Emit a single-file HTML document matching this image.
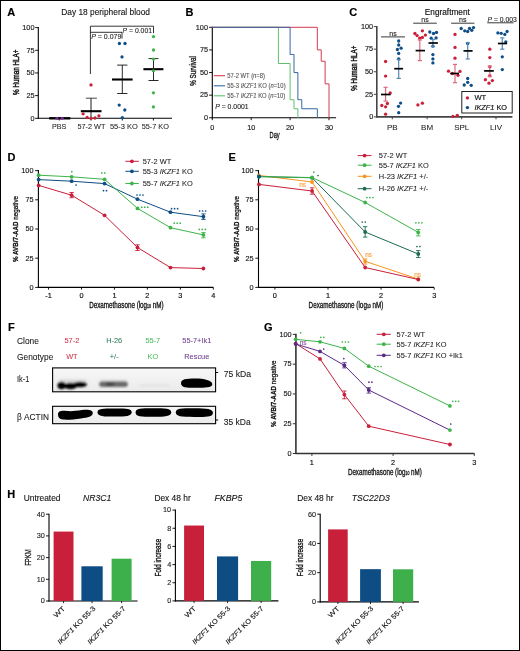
<!DOCTYPE html>
<html><head><meta charset="utf-8"><title>Figure</title>
<style>
html,body{margin:0;padding:0;background:#fff;}
body{width:520px;height:651px;overflow:hidden;}
svg{display:block;will-change:transform;font-family:"Liberation Sans", sans-serif;}
</style></head>
<body>
<svg width="520" height="651" viewBox="0 0 520 651">
<rect x="0.5" y="0.5" width="519" height="650" fill="#fff" stroke="#000" stroke-width="1"/>
<text x="7.20" y="15.80" font-size="11" stroke="#000" stroke-width="0.16" font-weight="bold" >A</text>
<text x="61.20" y="14.90" font-size="8.5" stroke="#111" stroke-width="0.1" fill="#111" textLength="88.8" lengthAdjust="spacingAndGlyphs" >Day 18 peripheral blood</text>
<line x1="38.30" y1="27.10" x2="38.30" y2="118.80" stroke="#000" stroke-width="1.1" />
<line x1="37.80" y1="118.30" x2="172.00" y2="118.30" stroke="#000" stroke-width="1.1" />
<line x1="35.10" y1="118.30" x2="38.30" y2="118.30" stroke="#000" stroke-width="0.9" />
<text x="34.50" y="120.60" font-size="7.3" stroke="#222" stroke-width="0.15" text-anchor="end" fill="#222" >0</text>
<line x1="35.10" y1="95.62" x2="38.30" y2="95.62" stroke="#000" stroke-width="0.9" />
<text x="34.50" y="97.92" font-size="7.3" stroke="#222" stroke-width="0.15" text-anchor="end" fill="#222" >25</text>
<line x1="35.10" y1="72.95" x2="38.30" y2="72.95" stroke="#000" stroke-width="0.9" />
<text x="34.50" y="75.25" font-size="7.3" stroke="#222" stroke-width="0.15" text-anchor="end" fill="#222" >50</text>
<line x1="35.10" y1="50.27" x2="38.30" y2="50.27" stroke="#000" stroke-width="0.9" />
<text x="34.50" y="52.57" font-size="7.3" stroke="#222" stroke-width="0.15" text-anchor="end" fill="#222" >75</text>
<line x1="35.10" y1="27.60" x2="38.30" y2="27.60" stroke="#000" stroke-width="0.9" />
<text x="34.50" y="29.90" font-size="7.3" stroke="#222" stroke-width="0.15" text-anchor="end" fill="#222" >100</text>
<line x1="59.20" y1="118.30" x2="59.20" y2="120.50" stroke="#000" stroke-width="0.9" />
<text x="59.20" y="129.00" font-size="8.0" stroke="#1a1a1a" stroke-width="0.06" text-anchor="middle" fill="#1a1a1a" textLength="14.3" lengthAdjust="spacingAndGlyphs" >PBS</text>
<line x1="91.00" y1="118.30" x2="91.00" y2="120.50" stroke="#000" stroke-width="0.9" />
<text x="91.40" y="129.00" font-size="8.0" stroke="#1a1a1a" stroke-width="0.06" text-anchor="middle" fill="#1a1a1a" textLength="27.9" lengthAdjust="spacingAndGlyphs" >57-2 WT</text>
<line x1="122.30" y1="118.30" x2="122.30" y2="120.50" stroke="#000" stroke-width="0.9" />
<text x="123.80" y="129.00" font-size="8.0" stroke="#1a1a1a" stroke-width="0.06" text-anchor="middle" fill="#1a1a1a" textLength="27.8" lengthAdjust="spacingAndGlyphs" >55-3 KO</text>
<line x1="153.40" y1="118.30" x2="153.40" y2="120.50" stroke="#000" stroke-width="0.9" />
<text x="155.30" y="129.00" font-size="8.0" stroke="#1a1a1a" stroke-width="0.06" text-anchor="middle" fill="#1a1a1a" textLength="27.3" lengthAdjust="spacingAndGlyphs" >55-7 KO</text>
<text x="19.00" y="72.20" font-size="9.2" stroke="#111" stroke-width="0.45" text-anchor="middle" fill="#111" textLength="45.4" lengthAdjust="spacingAndGlyphs" transform="rotate(-90 19.00 72.20)" >% Human HLA+</text>
<path d="M90.4,74 V26.2 H153.5 V33.2" stroke="#000" stroke-width="0.8" fill="none" />
<path d="M90.4,32.3 H122 V38.6" stroke="#000" stroke-width="0.8" fill="none" />
<text x="91.30" y="39.40" font-size="7" stroke="#222" stroke-width="0.08" fill="#222" textLength="30" lengthAdjust="spacingAndGlyphs" ><tspan font-style="italic">P</tspan> = 0.079</text>
<text x="122.60" y="32.90" font-size="7" stroke="#222" stroke-width="0.08" fill="#222" textLength="29.4" lengthAdjust="spacingAndGlyphs" ><tspan font-style="italic">P</tspan> = 0.001</text>
<line x1="49.20" y1="118.30" x2="70.30" y2="118.30" stroke="#000" stroke-width="2.4" />
<circle cx="56.90" cy="118.30" r="1.5" fill="#7a2a9a"/>
<circle cx="62.30" cy="118.30" r="1.5" fill="#7a2a9a"/>
<line x1="80.80" y1="111.20" x2="101.50" y2="111.20" stroke="#000" stroke-width="2.1" />
<line x1="91.00" y1="98.20" x2="91.00" y2="118.30" stroke="#000" stroke-width="0.9" />
<line x1="85.80" y1="98.20" x2="96.90" y2="98.20" stroke="#333" stroke-width="0.9" />
<circle cx="91.00" cy="84.90" r="1.65" fill="#c8203a"/>
<circle cx="83.10" cy="113.80" r="1.65" fill="#c8203a"/>
<circle cx="87.10" cy="117.50" r="1.65" fill="#c8203a"/>
<circle cx="91.00" cy="118.30" r="1.65" fill="#c8203a"/>
<circle cx="95.00" cy="118.00" r="1.65" fill="#c8203a"/>
<circle cx="98.90" cy="115.80" r="1.65" fill="#c8203a"/>
<line x1="112.00" y1="79.50" x2="132.60" y2="79.50" stroke="#000" stroke-width="2.1" />
<line x1="122.30" y1="65.10" x2="122.30" y2="93.50" stroke="#111" stroke-width="0.9" />
<line x1="117.20" y1="65.10" x2="127.40" y2="65.10" stroke="#111" stroke-width="0.9" />
<line x1="117.20" y1="93.50" x2="127.40" y2="93.50" stroke="#111" stroke-width="0.9" />
<circle cx="119.40" cy="43.50" r="1.65" fill="#0e4d86"/>
<circle cx="125.00" cy="43.50" r="1.65" fill="#0e4d86"/>
<circle cx="122.00" cy="56.90" r="1.65" fill="#0e4d86"/>
<circle cx="119.20" cy="105.10" r="1.65" fill="#0e4d86"/>
<circle cx="124.80" cy="110.00" r="1.65" fill="#0e4d86"/>
<circle cx="122.30" cy="117.70" r="1.65" fill="#0e4d86"/>
<line x1="143.40" y1="69.20" x2="163.40" y2="69.20" stroke="#000" stroke-width="2.1" />
<line x1="153.50" y1="58.60" x2="153.50" y2="80.50" stroke="#111" stroke-width="0.9" />
<line x1="148.50" y1="58.60" x2="158.50" y2="58.60" stroke="#111" stroke-width="0.9" />
<line x1="148.50" y1="80.50" x2="158.50" y2="80.50" stroke="#111" stroke-width="0.9" />
<circle cx="153.50" cy="36.60" r="1.65" fill="#3db44b"/>
<circle cx="153.50" cy="50.00" r="1.65" fill="#3db44b"/>
<circle cx="153.50" cy="59.10" r="1.65" fill="#3db44b"/>
<circle cx="153.40" cy="70.80" r="1.65" fill="#3db44b"/>
<circle cx="153.40" cy="92.80" r="1.65" fill="#3db44b"/>
<circle cx="153.40" cy="106.90" r="1.65" fill="#3db44b"/>
<text x="185.60" y="15.80" font-size="11" stroke="#000" stroke-width="0.16" font-weight="bold" >B</text>
<line x1="212.30" y1="26.80" x2="212.30" y2="118.30" stroke="#000" stroke-width="1.1" />
<line x1="211.80" y1="117.80" x2="336.10" y2="117.80" stroke="#000" stroke-width="1.1" />
<line x1="209.10" y1="117.80" x2="212.30" y2="117.80" stroke="#000" stroke-width="0.9" />
<text x="208.00" y="120.10" font-size="7.3" stroke="#222" stroke-width="0.16" text-anchor="end" fill="#222" >0</text>
<line x1="209.10" y1="95.17" x2="212.30" y2="95.17" stroke="#000" stroke-width="0.9" />
<text x="208.00" y="97.47" font-size="7.3" stroke="#222" stroke-width="0.16" text-anchor="end" fill="#222" >25</text>
<line x1="209.10" y1="72.55" x2="212.30" y2="72.55" stroke="#000" stroke-width="0.9" />
<text x="208.00" y="74.85" font-size="7.3" stroke="#222" stroke-width="0.16" text-anchor="end" fill="#222" >50</text>
<line x1="209.10" y1="49.92" x2="212.30" y2="49.92" stroke="#000" stroke-width="0.9" />
<text x="208.00" y="52.22" font-size="7.3" stroke="#222" stroke-width="0.16" text-anchor="end" fill="#222" >75</text>
<line x1="209.10" y1="27.30" x2="212.30" y2="27.30" stroke="#000" stroke-width="0.9" />
<text x="208.00" y="29.60" font-size="7.3" stroke="#222" stroke-width="0.16" text-anchor="end" fill="#222" >100</text>
<line x1="212.30" y1="117.80" x2="212.30" y2="120.20" stroke="#000" stroke-width="0.9" />
<text x="212.30" y="129.60" font-size="7.3" stroke="#222" stroke-width="0.16" text-anchor="middle" fill="#222" >0</text>
<line x1="251.20" y1="117.80" x2="251.20" y2="120.20" stroke="#000" stroke-width="0.9" />
<text x="251.20" y="129.60" font-size="7.3" stroke="#222" stroke-width="0.16" text-anchor="middle" fill="#222" >10</text>
<line x1="290.10" y1="117.80" x2="290.10" y2="120.20" stroke="#000" stroke-width="0.9" />
<text x="290.10" y="129.60" font-size="7.3" stroke="#222" stroke-width="0.16" text-anchor="middle" fill="#222" >20</text>
<line x1="329.00" y1="117.80" x2="329.00" y2="120.20" stroke="#000" stroke-width="0.9" />
<text x="329.00" y="129.60" font-size="7.3" stroke="#222" stroke-width="0.16" text-anchor="middle" fill="#222" >30</text>
<text x="195.80" y="71.00" font-size="8.9" stroke="#111" stroke-width="0.35" text-anchor="middle" fill="#111" textLength="29.6" lengthAdjust="spacingAndGlyphs" transform="rotate(-90 195.80 71.00)" >% Survival</text>
<text x="274.60" y="137.80" font-size="9.6" stroke="#111" stroke-width="0.3" text-anchor="middle" fill="#111" textLength="10.2" lengthAdjust="spacingAndGlyphs" >Day</text>
<path d="M212.30,27.30 H278.43 V63.50 H290.10 V99.70 H293.99 V108.75 H297.88 V117.80" stroke="#62c070" stroke-width="1" fill="none" />
<path d="M212.30,27.30 H317.33 V49.92 H321.22 V61.24 H325.11 V83.86 H329.00 V117.80" stroke="#d63a50" stroke-width="1" fill="none" />
<path d="M212.30,27.30 H290.10 V54.45 H293.99 V72.55 H297.88 V99.70 H301.77 V108.75 H317.33 V117.80" stroke="#3569a3" stroke-width="1" fill="none" />
<line x1="213.80" y1="75.70" x2="225.10" y2="75.70" stroke="#d63a50" stroke-width="1.1" />
<text x="227.30" y="77.90" font-size="6.4" stroke="#555" stroke-width="0.1" fill="#555" textLength="37.6" lengthAdjust="spacingAndGlyphs" >57-2 WT (<tspan font-style="italic">n</tspan>=8)</text>
<line x1="213.80" y1="85.80" x2="225.10" y2="85.80" stroke="#3569a3" stroke-width="1.1" />
<text x="227.30" y="88.00" font-size="6.4" stroke="#555" stroke-width="0.1" fill="#555" textLength="58.3" lengthAdjust="spacingAndGlyphs" >55-3 <tspan font-style="italic">IKZF1</tspan> KO (<tspan font-style="italic">n</tspan>=10)</text>
<line x1="213.80" y1="95.80" x2="225.10" y2="95.80" stroke="#62c070" stroke-width="1.1" />
<text x="227.30" y="98.00" font-size="6.4" stroke="#555" stroke-width="0.1" fill="#555" textLength="58.0" lengthAdjust="spacingAndGlyphs" >55-7 <tspan font-style="italic">IKZF1</tspan> KO (<tspan font-style="italic">n</tspan>=10)</text>
<text x="215.20" y="109.00" font-size="7.4" stroke="#222" stroke-width="0.1" fill="#222" textLength="33.4" lengthAdjust="spacingAndGlyphs" ><tspan font-style="italic">P</tspan> = 0.0001</text>
<text x="349.20" y="15.90" font-size="11" stroke="#000" stroke-width="0.16" font-weight="bold" >C</text>
<text x="424.80" y="14.80" font-size="8.6" stroke="#111" stroke-width="0.16" fill="#111" textLength="45" lengthAdjust="spacingAndGlyphs" >Engraftment</text>
<line x1="376.80" y1="26.00" x2="376.80" y2="117.50" stroke="#444" stroke-width="1.6" />
<line x1="376.20" y1="116.90" x2="512.40" y2="116.90" stroke="#444" stroke-width="1.6" />
<line x1="373.80" y1="116.90" x2="376.80" y2="116.90" stroke="#444" stroke-width="1.0" />
<text x="373.20" y="119.20" font-size="7.3" stroke="#222" stroke-width="0.16" text-anchor="end" fill="#222" >0</text>
<line x1="373.80" y1="94.33" x2="376.80" y2="94.33" stroke="#444" stroke-width="1.0" />
<text x="373.20" y="96.62" font-size="7.3" stroke="#222" stroke-width="0.16" text-anchor="end" fill="#222" >25</text>
<line x1="373.80" y1="71.75" x2="376.80" y2="71.75" stroke="#444" stroke-width="1.0" />
<text x="373.20" y="74.05" font-size="7.3" stroke="#222" stroke-width="0.16" text-anchor="end" fill="#222" >50</text>
<line x1="373.80" y1="49.17" x2="376.80" y2="49.17" stroke="#444" stroke-width="1.0" />
<text x="373.20" y="51.47" font-size="7.3" stroke="#222" stroke-width="0.16" text-anchor="end" fill="#222" >75</text>
<line x1="373.80" y1="26.60" x2="376.80" y2="26.60" stroke="#444" stroke-width="1.0" />
<text x="373.20" y="28.90" font-size="7.3" stroke="#222" stroke-width="0.16" text-anchor="end" fill="#222" >100</text>
<line x1="392.30" y1="116.90" x2="392.30" y2="119.30" stroke="#444" stroke-width="1.0" />
<text x="392.30" y="130.00" font-size="8.0" stroke="#1a1a1a" stroke-width="0.05" text-anchor="middle" fill="#1a1a1a" >PB</text>
<line x1="427.10" y1="116.90" x2="427.10" y2="119.30" stroke="#444" stroke-width="1.0" />
<text x="427.10" y="130.00" font-size="8.0" stroke="#1a1a1a" stroke-width="0.05" text-anchor="middle" fill="#1a1a1a" >BM</text>
<line x1="461.70" y1="116.90" x2="461.70" y2="119.30" stroke="#444" stroke-width="1.0" />
<text x="461.70" y="130.00" font-size="8.0" stroke="#1a1a1a" stroke-width="0.05" text-anchor="middle" fill="#1a1a1a" >SPL</text>
<line x1="496.00" y1="116.90" x2="496.00" y2="119.30" stroke="#444" stroke-width="1.0" />
<text x="496.00" y="130.00" font-size="8.0" stroke="#1a1a1a" stroke-width="0.05" text-anchor="middle" fill="#1a1a1a" >LIV</text>
<text x="357.40" y="68.20" font-size="9.2" stroke="#111" stroke-width="0.45" text-anchor="middle" fill="#111" textLength="45" lengthAdjust="spacingAndGlyphs" transform="rotate(-90 357.40 68.20)" >% Human HLA+</text>
<line x1="381.00" y1="36.90" x2="405.00" y2="36.90" stroke="#222" stroke-width="0.9" />
<text x="393.00" y="36.00" font-size="7" stroke="#1a1a1a" stroke-width="0.1" text-anchor="middle" fill="#1a1a1a" >ns</text>
<line x1="413.20" y1="23.20" x2="436.80" y2="23.20" stroke="#222" stroke-width="0.9" />
<text x="425.00" y="22.30" font-size="7" stroke="#1a1a1a" stroke-width="0.1" text-anchor="middle" fill="#1a1a1a" >ns</text>
<line x1="451.10" y1="23.20" x2="474.40" y2="23.20" stroke="#222" stroke-width="0.9" />
<text x="462.75" y="22.30" font-size="7" stroke="#1a1a1a" stroke-width="0.1" text-anchor="middle" fill="#1a1a1a" >ns</text>
<line x1="487.30" y1="22.80" x2="513.50" y2="22.80" stroke="#222" stroke-width="0.9" />
<text x="487.50" y="21.60" font-size="7.0" stroke="#1a1a1a" stroke-width="0.1" fill="#1a1a1a" textLength="29.4" lengthAdjust="spacingAndGlyphs" ><tspan font-style="italic">P</tspan> = 0.003</text>
<circle cx="385.60" cy="61.50" r="1.65" fill="#cc1f3a"/>
<circle cx="385.60" cy="76.10" r="1.65" fill="#cc1f3a"/>
<circle cx="390.20" cy="92.90" r="1.65" fill="#cc1f3a"/>
<circle cx="387.40" cy="103.50" r="1.65" fill="#cc1f3a"/>
<circle cx="381.80" cy="105.50" r="1.65" fill="#cc1f3a"/>
<circle cx="385.60" cy="106.80" r="1.65" fill="#cc1f3a"/>
<circle cx="385.60" cy="114.20" r="1.65" fill="#cc1f3a"/>
<line x1="385.60" y1="87.30" x2="385.60" y2="101.10" stroke="#dc6a7c" stroke-width="1.2" />
<line x1="383.50" y1="87.30" x2="387.70" y2="87.30" stroke="#dc6a7c" stroke-width="1.2" />
<line x1="383.50" y1="101.10" x2="387.70" y2="101.10" stroke="#dc6a7c" stroke-width="1.2" />
<line x1="381.00" y1="94.50" x2="390.60" y2="94.50" stroke="#000" stroke-width="1.7" />
<circle cx="398.70" cy="41.00" r="1.65" fill="#0e4d86"/>
<circle cx="398.70" cy="45.00" r="1.65" fill="#0e4d86"/>
<circle cx="397.40" cy="49.50" r="1.65" fill="#0e4d86"/>
<circle cx="401.10" cy="48.20" r="1.65" fill="#0e4d86"/>
<circle cx="398.70" cy="53.40" r="1.65" fill="#0e4d86"/>
<circle cx="398.70" cy="59.00" r="1.65" fill="#0e4d86"/>
<circle cx="400.60" cy="103.10" r="1.65" fill="#0e4d86"/>
<circle cx="398.50" cy="106.30" r="1.65" fill="#0e4d86"/>
<circle cx="398.70" cy="112.70" r="1.65" fill="#0e4d86"/>
<line x1="398.70" y1="59.50" x2="398.70" y2="78.40" stroke="#5588b8" stroke-width="1.2" />
<line x1="396.60" y1="59.50" x2="400.80" y2="59.50" stroke="#5588b8" stroke-width="1.2" />
<line x1="396.60" y1="78.40" x2="400.80" y2="78.40" stroke="#5588b8" stroke-width="1.2" />
<line x1="394.20" y1="68.70" x2="403.10" y2="68.70" stroke="#000" stroke-width="1.7" />
<circle cx="414.90" cy="33.50" r="1.65" fill="#cc1f3a"/>
<circle cx="422.40" cy="30.80" r="1.65" fill="#cc1f3a"/>
<circle cx="417.10" cy="35.60" r="1.65" fill="#cc1f3a"/>
<circle cx="419.70" cy="38.20" r="1.65" fill="#cc1f3a"/>
<circle cx="422.40" cy="37.40" r="1.65" fill="#cc1f3a"/>
<circle cx="425.40" cy="35.10" r="1.65" fill="#cc1f3a"/>
<circle cx="417.90" cy="104.90" r="1.65" fill="#cc1f3a"/>
<circle cx="422.40" cy="103.20" r="1.65" fill="#cc1f3a"/>
<line x1="419.80" y1="40.00" x2="419.80" y2="60.60" stroke="#dc6a7c" stroke-width="1.2" />
<line x1="417.70" y1="40.00" x2="421.90" y2="40.00" stroke="#dc6a7c" stroke-width="1.2" />
<line x1="417.70" y1="60.60" x2="421.90" y2="60.60" stroke="#dc6a7c" stroke-width="1.2" />
<line x1="415.60" y1="50.60" x2="425.00" y2="50.60" stroke="#000" stroke-width="1.7" />
<circle cx="429.80" cy="32.00" r="1.65" fill="#0e4d86"/>
<circle cx="433.50" cy="33.50" r="1.65" fill="#0e4d86"/>
<circle cx="436.50" cy="32.40" r="1.65" fill="#0e4d86"/>
<circle cx="431.20" cy="38.20" r="1.65" fill="#0e4d86"/>
<circle cx="436.10" cy="37.90" r="1.65" fill="#0e4d86"/>
<circle cx="432.90" cy="46.20" r="1.65" fill="#0e4d86"/>
<circle cx="432.90" cy="54.60" r="1.65" fill="#0e4d86"/>
<circle cx="432.90" cy="58.90" r="1.65" fill="#0e4d86"/>
<circle cx="432.90" cy="62.90" r="1.65" fill="#0e4d86"/>
<line x1="432.90" y1="39.50" x2="432.90" y2="46.50" stroke="#5588b8" stroke-width="1.2" />
<line x1="430.80" y1="39.50" x2="435.00" y2="39.50" stroke="#5588b8" stroke-width="1.2" />
<line x1="430.80" y1="46.50" x2="435.00" y2="46.50" stroke="#5588b8" stroke-width="1.2" />
<line x1="428.50" y1="43.00" x2="437.90" y2="43.00" stroke="#000" stroke-width="1.7" />
<circle cx="455.00" cy="34.40" r="1.65" fill="#cc1f3a"/>
<circle cx="455.00" cy="47.40" r="1.65" fill="#cc1f3a"/>
<circle cx="455.00" cy="58.20" r="1.65" fill="#cc1f3a"/>
<circle cx="448.50" cy="71.20" r="1.65" fill="#cc1f3a"/>
<circle cx="460.00" cy="71.40" r="1.65" fill="#cc1f3a"/>
<circle cx="452.40" cy="73.50" r="1.65" fill="#cc1f3a"/>
<circle cx="458.00" cy="75.30" r="1.65" fill="#cc1f3a"/>
<circle cx="452.90" cy="116.40" r="1.65" fill="#cc1f3a"/>
<circle cx="457.30" cy="115.30" r="1.65" fill="#cc1f3a"/>
<line x1="455.00" y1="64.40" x2="455.00" y2="82.70" stroke="#dc6a7c" stroke-width="1.2" />
<line x1="452.90" y1="64.40" x2="457.10" y2="64.40" stroke="#dc6a7c" stroke-width="1.2" />
<line x1="452.90" y1="82.70" x2="457.10" y2="82.70" stroke="#dc6a7c" stroke-width="1.2" />
<line x1="450.20" y1="73.50" x2="459.00" y2="73.50" stroke="#000" stroke-width="1.7" />
<circle cx="461.20" cy="28.50" r="1.65" fill="#0e4d86"/>
<circle cx="464.70" cy="30.80" r="1.65" fill="#0e4d86"/>
<circle cx="467.70" cy="31.50" r="1.65" fill="#0e4d86"/>
<circle cx="469.50" cy="28.50" r="1.65" fill="#0e4d86"/>
<circle cx="471.80" cy="30.30" r="1.65" fill="#0e4d86"/>
<circle cx="473.50" cy="27.60" r="1.65" fill="#0e4d86"/>
<circle cx="467.70" cy="43.50" r="1.65" fill="#0e4d86"/>
<circle cx="467.70" cy="78.50" r="1.65" fill="#0e4d86"/>
<circle cx="464.20" cy="85.00" r="1.65" fill="#0e4d86"/>
<circle cx="467.70" cy="82.30" r="1.65" fill="#0e4d86"/>
<circle cx="471.20" cy="85.30" r="1.65" fill="#0e4d86"/>
<line x1="467.70" y1="42.60" x2="467.70" y2="59.00" stroke="#5588b8" stroke-width="1.2" />
<line x1="465.60" y1="42.60" x2="469.80" y2="42.60" stroke="#5588b8" stroke-width="1.2" />
<line x1="465.60" y1="59.00" x2="469.80" y2="59.00" stroke="#5588b8" stroke-width="1.2" />
<line x1="463.50" y1="50.90" x2="472.60" y2="50.90" stroke="#000" stroke-width="1.7" />
<circle cx="489.80" cy="49.20" r="1.65" fill="#cc1f3a"/>
<circle cx="489.80" cy="57.60" r="1.65" fill="#cc1f3a"/>
<circle cx="489.80" cy="66.80" r="1.65" fill="#cc1f3a"/>
<circle cx="489.80" cy="75.60" r="1.65" fill="#cc1f3a"/>
<circle cx="485.40" cy="79.70" r="1.65" fill="#cc1f3a"/>
<circle cx="492.40" cy="80.60" r="1.65" fill="#cc1f3a"/>
<circle cx="489.00" cy="83.20" r="1.65" fill="#cc1f3a"/>
<line x1="489.80" y1="66.10" x2="489.80" y2="76.70" stroke="#dc6a7c" stroke-width="1.2" />
<line x1="487.70" y1="66.10" x2="491.90" y2="66.10" stroke="#dc6a7c" stroke-width="1.2" />
<line x1="487.70" y1="76.70" x2="491.90" y2="76.70" stroke="#dc6a7c" stroke-width="1.2" />
<line x1="484.10" y1="70.90" x2="493.80" y2="70.90" stroke="#000" stroke-width="1.7" />
<circle cx="497.90" cy="32.90" r="1.65" fill="#0e4d86"/>
<circle cx="501.20" cy="33.30" r="1.65" fill="#0e4d86"/>
<circle cx="504.80" cy="34.40" r="1.65" fill="#0e4d86"/>
<circle cx="507.10" cy="31.50" r="1.65" fill="#0e4d86"/>
<circle cx="505.80" cy="41.80" r="1.65" fill="#0e4d86"/>
<circle cx="502.30" cy="56.80" r="1.65" fill="#0e4d86"/>
<circle cx="502.30" cy="69.60" r="1.65" fill="#0e4d86"/>
<line x1="502.30" y1="37.90" x2="502.30" y2="49.20" stroke="#5588b8" stroke-width="1.2" />
<line x1="500.20" y1="37.90" x2="504.40" y2="37.90" stroke="#5588b8" stroke-width="1.2" />
<line x1="500.20" y1="49.20" x2="504.40" y2="49.20" stroke="#5588b8" stroke-width="1.2" />
<line x1="497.90" y1="43.50" x2="507.10" y2="43.50" stroke="#000" stroke-width="1.7" />
<rect x="461.8" y="91.5" width="50.4" height="21.5" fill="#fff" stroke="#222" stroke-width="1"/>
<circle cx="467.40" cy="97.90" r="1.7" fill="#cc1f3a"/>
<circle cx="467.40" cy="107.60" r="1.7" fill="#0e4d86"/>
<text x="474.40" y="100.40" font-size="7.6" stroke="#111" stroke-width="0.16" fill="#111" >WT</text>
<text x="474.40" y="110.20" font-size="7.6" stroke="#111" stroke-width="0.16" fill="#111" textLength="32.6" lengthAdjust="spacingAndGlyphs" ><tspan font-style="italic">IKZF1</tspan> KO</text>
<text x="7.60" y="160.80" font-size="11" stroke="#000" stroke-width="0.16" font-weight="bold" >D</text>
<line x1="38.40" y1="170.10" x2="38.40" y2="287.90" stroke="#000" stroke-width="1.1" />
<line x1="37.90" y1="287.40" x2="213.40" y2="287.40" stroke="#000" stroke-width="1.1" />
<line x1="35.20" y1="287.40" x2="38.40" y2="287.40" stroke="#000" stroke-width="0.9" />
<text x="33.50" y="289.70" font-size="7.3" stroke="#222" stroke-width="0.16" text-anchor="end" fill="#222" >0</text>
<line x1="35.20" y1="258.20" x2="38.40" y2="258.20" stroke="#000" stroke-width="0.9" />
<text x="33.50" y="260.50" font-size="7.3" stroke="#222" stroke-width="0.16" text-anchor="end" fill="#222" >25</text>
<line x1="35.20" y1="229.00" x2="38.40" y2="229.00" stroke="#000" stroke-width="0.9" />
<text x="33.50" y="231.30" font-size="7.3" stroke="#222" stroke-width="0.16" text-anchor="end" fill="#222" >50</text>
<line x1="35.20" y1="199.80" x2="38.40" y2="199.80" stroke="#000" stroke-width="0.9" />
<text x="33.50" y="202.10" font-size="7.3" stroke="#222" stroke-width="0.16" text-anchor="end" fill="#222" >75</text>
<line x1="35.20" y1="170.60" x2="38.40" y2="170.60" stroke="#000" stroke-width="0.9" />
<text x="33.50" y="172.90" font-size="7.3" stroke="#222" stroke-width="0.16" text-anchor="end" fill="#222" >100</text>
<line x1="48.55" y1="287.40" x2="48.55" y2="289.60" stroke="#000" stroke-width="0.9" />
<text x="48.55" y="298.00" font-size="7.3" stroke="#111" stroke-width="0.16" text-anchor="middle" fill="#111" >-1</text>
<line x1="81.50" y1="287.40" x2="81.50" y2="289.60" stroke="#000" stroke-width="0.9" />
<text x="81.50" y="298.00" font-size="7.3" stroke="#111" stroke-width="0.16" text-anchor="middle" fill="#111" >0</text>
<line x1="114.45" y1="287.40" x2="114.45" y2="289.60" stroke="#000" stroke-width="0.9" />
<text x="114.45" y="298.00" font-size="7.3" stroke="#111" stroke-width="0.16" text-anchor="middle" fill="#111" >1</text>
<line x1="147.40" y1="287.40" x2="147.40" y2="289.60" stroke="#000" stroke-width="0.9" />
<text x="147.40" y="298.00" font-size="7.3" stroke="#111" stroke-width="0.16" text-anchor="middle" fill="#111" >2</text>
<line x1="180.35" y1="287.40" x2="180.35" y2="289.60" stroke="#000" stroke-width="0.9" />
<text x="180.35" y="298.00" font-size="7.3" stroke="#111" stroke-width="0.16" text-anchor="middle" fill="#111" >3</text>
<line x1="213.30" y1="287.40" x2="213.30" y2="289.60" stroke="#000" stroke-width="0.9" />
<text x="213.30" y="298.00" font-size="7.3" stroke="#111" stroke-width="0.16" text-anchor="middle" fill="#111" >4</text>
<text x="89.20" y="308.00" font-size="8.4" stroke="#111" stroke-width="0.3" fill="#111" textLength="74.3" lengthAdjust="spacingAndGlyphs" >Dexamethasone (log<tspan font-size="4.6">10</tspan> nM)</text>
<text x="17.60" y="229.00" font-size="7.2" stroke="#111" stroke-width="0.28" text-anchor="middle" fill="#111" textLength="66" lengthAdjust="spacingAndGlyphs" transform="rotate(-90 17.60 229.00)" ><tspan font-weight="bold">% AVB/7-AAD</tspan> negative</text>
<line x1="71.61" y1="192.50" x2="71.61" y2="197.70" stroke="#c8203a" stroke-width="0.9" />
<line x1="69.41" y1="192.50" x2="73.81" y2="192.50" stroke="#c8203a" stroke-width="0.9" />
<line x1="69.41" y1="197.70" x2="73.81" y2="197.70" stroke="#c8203a" stroke-width="0.9" />
<line x1="137.51" y1="244.80" x2="137.51" y2="250.50" stroke="#c8203a" stroke-width="0.9" />
<line x1="135.31" y1="244.80" x2="139.71" y2="244.80" stroke="#c8203a" stroke-width="0.9" />
<line x1="135.31" y1="250.50" x2="139.71" y2="250.50" stroke="#c8203a" stroke-width="0.9" />
<line x1="203.42" y1="213.90" x2="203.42" y2="219.40" stroke="#0e4d86" stroke-width="0.9" />
<line x1="201.22" y1="213.90" x2="205.62" y2="213.90" stroke="#0e4d86" stroke-width="0.9" />
<line x1="201.22" y1="219.40" x2="205.62" y2="219.40" stroke="#0e4d86" stroke-width="0.9" />
<line x1="203.42" y1="232.60" x2="203.42" y2="237.80" stroke="#3db44b" stroke-width="0.9" />
<line x1="201.22" y1="232.60" x2="205.62" y2="232.60" stroke="#3db44b" stroke-width="0.9" />
<line x1="201.22" y1="237.80" x2="205.62" y2="237.80" stroke="#3db44b" stroke-width="0.9" />
<path d="M38.66,185.40 L71.61,195.20 L104.56,215.30 L137.51,247.50 L170.47,267.60 L203.42,268.50" stroke="#c8203a" stroke-width="1.0" fill="none" />
<circle cx="38.66" cy="185.40" r="1.9" fill="#c8203a"/>
<circle cx="71.61" cy="195.20" r="1.9" fill="#c8203a"/>
<circle cx="104.56" cy="215.30" r="1.9" fill="#c8203a"/>
<circle cx="137.51" cy="247.50" r="1.9" fill="#c8203a"/>
<circle cx="170.47" cy="267.60" r="1.9" fill="#c8203a"/>
<circle cx="203.42" cy="268.50" r="1.9" fill="#c8203a"/>
<path d="M38.66,179.60 L71.61,181.20 L104.56,183.60 L137.51,199.20 L170.47,212.20 L203.42,216.70" stroke="#0e4d86" stroke-width="1.0" fill="none" />
<circle cx="38.66" cy="179.60" r="1.9" fill="#0e4d86"/>
<circle cx="71.61" cy="181.20" r="1.9" fill="#0e4d86"/>
<circle cx="104.56" cy="183.60" r="1.9" fill="#0e4d86"/>
<circle cx="137.51" cy="199.20" r="1.9" fill="#0e4d86"/>
<circle cx="170.47" cy="212.20" r="1.9" fill="#0e4d86"/>
<circle cx="203.42" cy="216.70" r="1.9" fill="#0e4d86"/>
<path d="M38.66,175.20 L71.61,176.80 L104.56,179.30 L137.51,208.40 L170.47,227.70 L203.42,234.90" stroke="#3db44b" stroke-width="1.0" fill="none" />
<circle cx="38.66" cy="175.20" r="1.9" fill="#3db44b"/>
<circle cx="71.61" cy="176.80" r="1.9" fill="#3db44b"/>
<circle cx="104.56" cy="179.30" r="1.9" fill="#3db44b"/>
<circle cx="137.51" cy="208.40" r="1.9" fill="#3db44b"/>
<circle cx="170.47" cy="227.70" r="1.9" fill="#3db44b"/>
<circle cx="203.42" cy="234.90" r="1.9" fill="#3db44b"/>
<circle cx="71.80" cy="171.70" r="0.85" fill="#3db44b"/>
<circle cx="76.10" cy="185.00" r="0.85" fill="#0e4d86"/>
<circle cx="101.80" cy="172.90" r="0.85" fill="#3db44b"/>
<circle cx="104.80" cy="172.90" r="0.85" fill="#3db44b"/>
<circle cx="103.50" cy="190.70" r="0.85" fill="#0e4d86"/>
<circle cx="106.50" cy="190.70" r="0.85" fill="#0e4d86"/>
<circle cx="137.00" cy="195.00" r="0.85" fill="#0e4d86"/>
<circle cx="140.00" cy="195.00" r="0.85" fill="#0e4d86"/>
<circle cx="143.00" cy="195.00" r="0.85" fill="#0e4d86"/>
<circle cx="141.80" cy="207.20" r="0.85" fill="#3db44b"/>
<circle cx="144.80" cy="207.20" r="0.85" fill="#3db44b"/>
<circle cx="147.80" cy="207.20" r="0.85" fill="#3db44b"/>
<circle cx="171.60" cy="208.70" r="0.85" fill="#0e4d86"/>
<circle cx="174.60" cy="208.70" r="0.85" fill="#0e4d86"/>
<circle cx="177.60" cy="208.70" r="0.85" fill="#0e4d86"/>
<circle cx="174.20" cy="223.20" r="0.85" fill="#3db44b"/>
<circle cx="177.20" cy="223.20" r="0.85" fill="#3db44b"/>
<circle cx="180.20" cy="223.20" r="0.85" fill="#3db44b"/>
<circle cx="199.60" cy="211.00" r="0.85" fill="#0e4d86"/>
<circle cx="202.60" cy="211.00" r="0.85" fill="#0e4d86"/>
<circle cx="205.60" cy="211.00" r="0.85" fill="#0e4d86"/>
<circle cx="199.30" cy="229.40" r="0.85" fill="#3db44b"/>
<circle cx="202.30" cy="229.40" r="0.85" fill="#3db44b"/>
<circle cx="205.30" cy="229.40" r="0.85" fill="#3db44b"/>
<line x1="125.40" y1="161.30" x2="138.80" y2="161.30" stroke="#c8203a" stroke-width="1.0" />
<circle cx="131.90" cy="161.30" r="1.9" fill="#c8203a"/>
<text x="142.70" y="163.90" font-size="7.45" stroke="#1a1a1a" stroke-width="0.06" fill="#1a1a1a" >57-2 WT</text>
<line x1="125.40" y1="171.30" x2="138.80" y2="171.30" stroke="#0e4d86" stroke-width="1.0" />
<circle cx="131.90" cy="171.30" r="1.9" fill="#0e4d86"/>
<text x="142.70" y="173.90" font-size="7.45" stroke="#1a1a1a" stroke-width="0.06" fill="#1a1a1a" >55-3 <tspan font-style="italic">IKZF1</tspan> KO</text>
<line x1="125.40" y1="183.50" x2="138.80" y2="183.50" stroke="#3db44b" stroke-width="1.0" />
<circle cx="131.90" cy="183.50" r="1.9" fill="#3db44b"/>
<text x="142.70" y="186.10" font-size="7.45" stroke="#1a1a1a" stroke-width="0.06" fill="#1a1a1a" >55-7 <tspan font-style="italic">IKZF1</tspan> KO</text>
<text x="228.60" y="160.80" font-size="11" stroke="#000" stroke-width="0.16" font-weight="bold" >E</text>
<line x1="258.50" y1="170.10" x2="258.50" y2="287.90" stroke="#000" stroke-width="1.1" />
<line x1="258.00" y1="287.40" x2="434.00" y2="287.40" stroke="#000" stroke-width="1.1" />
<line x1="255.30" y1="287.40" x2="258.50" y2="287.40" stroke="#000" stroke-width="0.9" />
<text x="253.60" y="289.70" font-size="7.3" stroke="#222" stroke-width="0.16" text-anchor="end" fill="#222" >0</text>
<line x1="255.30" y1="258.20" x2="258.50" y2="258.20" stroke="#000" stroke-width="0.9" />
<text x="253.60" y="260.50" font-size="7.3" stroke="#222" stroke-width="0.16" text-anchor="end" fill="#222" >25</text>
<line x1="255.30" y1="229.00" x2="258.50" y2="229.00" stroke="#000" stroke-width="0.9" />
<text x="253.60" y="231.30" font-size="7.3" stroke="#222" stroke-width="0.16" text-anchor="end" fill="#222" >50</text>
<line x1="255.30" y1="199.80" x2="258.50" y2="199.80" stroke="#000" stroke-width="0.9" />
<text x="253.60" y="202.10" font-size="7.3" stroke="#222" stroke-width="0.16" text-anchor="end" fill="#222" >75</text>
<line x1="255.30" y1="170.60" x2="258.50" y2="170.60" stroke="#000" stroke-width="0.9" />
<text x="253.60" y="172.90" font-size="7.3" stroke="#222" stroke-width="0.16" text-anchor="end" fill="#222" >100</text>
<line x1="274.90" y1="287.40" x2="274.90" y2="289.60" stroke="#000" stroke-width="0.9" />
<text x="274.90" y="298.00" font-size="7.3" stroke="#111" stroke-width="0.16" text-anchor="middle" fill="#111" >0</text>
<line x1="328.00" y1="287.40" x2="328.00" y2="289.60" stroke="#000" stroke-width="0.9" />
<text x="328.00" y="298.00" font-size="7.3" stroke="#111" stroke-width="0.16" text-anchor="middle" fill="#111" >1</text>
<line x1="381.10" y1="287.40" x2="381.10" y2="289.60" stroke="#000" stroke-width="0.9" />
<text x="381.10" y="298.00" font-size="7.3" stroke="#111" stroke-width="0.16" text-anchor="middle" fill="#111" >2</text>
<line x1="434.20" y1="287.40" x2="434.20" y2="289.60" stroke="#000" stroke-width="0.9" />
<text x="434.20" y="298.00" font-size="7.3" stroke="#111" stroke-width="0.16" text-anchor="middle" fill="#111" >3</text>
<text x="308.60" y="308.00" font-size="8.4" stroke="#111" stroke-width="0.3" fill="#111" textLength="74.8" lengthAdjust="spacingAndGlyphs" >Dexamethasone (log<tspan font-size="4.6">10</tspan> nM)</text>
<text x="238.60" y="229.00" font-size="7.2" stroke="#111" stroke-width="0.28" text-anchor="middle" fill="#111" textLength="66" lengthAdjust="spacingAndGlyphs" transform="rotate(-90 238.60 229.00)" ><tspan font-weight="bold">% AVB/7-AAD</tspan> negative</text>
<line x1="312.07" y1="187.80" x2="312.07" y2="194.20" stroke="#c8203a" stroke-width="0.9" />
<line x1="309.87" y1="187.80" x2="314.27" y2="187.80" stroke="#c8203a" stroke-width="0.9" />
<line x1="309.87" y1="194.20" x2="314.27" y2="194.20" stroke="#c8203a" stroke-width="0.9" />
<line x1="365.17" y1="226.70" x2="365.17" y2="237.10" stroke="#1b6b52" stroke-width="0.9" />
<line x1="362.97" y1="226.70" x2="367.37" y2="226.70" stroke="#1b6b52" stroke-width="0.9" />
<line x1="362.97" y1="237.10" x2="367.37" y2="237.10" stroke="#1b6b52" stroke-width="0.9" />
<line x1="418.27" y1="250.60" x2="418.27" y2="257.50" stroke="#1b6b52" stroke-width="0.9" />
<line x1="416.07" y1="250.60" x2="420.47" y2="250.60" stroke="#1b6b52" stroke-width="0.9" />
<line x1="416.07" y1="257.50" x2="420.47" y2="257.50" stroke="#1b6b52" stroke-width="0.9" />
<line x1="418.27" y1="229.50" x2="418.27" y2="235.90" stroke="#3db44b" stroke-width="0.9" />
<line x1="416.07" y1="229.50" x2="420.47" y2="229.50" stroke="#3db44b" stroke-width="0.9" />
<line x1="416.07" y1="235.90" x2="420.47" y2="235.90" stroke="#3db44b" stroke-width="0.9" />
<line x1="365.17" y1="258.90" x2="365.17" y2="264.10" stroke="#f7941d" stroke-width="0.9" />
<line x1="362.97" y1="258.90" x2="367.37" y2="258.90" stroke="#f7941d" stroke-width="0.9" />
<line x1="362.97" y1="264.10" x2="367.37" y2="264.10" stroke="#f7941d" stroke-width="0.9" />
<path d="M258.97,175.40 L312.07,182.00 L365.17,261.30 L418.27,279.10" stroke="#f7941d" stroke-width="1.0" fill="none" />
<circle cx="258.97" cy="175.40" r="1.9" fill="#f7941d"/>
<circle cx="312.07" cy="182.00" r="1.9" fill="#f7941d"/>
<circle cx="365.17" cy="261.30" r="1.9" fill="#f7941d"/>
<circle cx="418.27" cy="279.10" r="1.9" fill="#f7941d"/>
<path d="M258.97,184.40 L312.07,191.00 L365.17,267.50 L418.27,279.50" stroke="#c8203a" stroke-width="1.0" fill="none" />
<circle cx="258.97" cy="184.40" r="1.9" fill="#c8203a"/>
<circle cx="312.07" cy="191.00" r="1.9" fill="#c8203a"/>
<circle cx="365.17" cy="267.50" r="1.9" fill="#c8203a"/>
<circle cx="418.27" cy="279.50" r="1.9" fill="#c8203a"/>
<path d="M258.97,176.50 L312.07,177.80 L365.17,232.00 L418.27,254.00" stroke="#1b6b52" stroke-width="1.0" fill="none" />
<circle cx="258.97" cy="176.50" r="1.9" fill="#1b6b52"/>
<circle cx="312.07" cy="177.80" r="1.9" fill="#1b6b52"/>
<circle cx="365.17" cy="232.00" r="1.9" fill="#1b6b52"/>
<circle cx="418.27" cy="254.00" r="1.9" fill="#1b6b52"/>
<path d="M258.97,176.70 L312.07,177.50 L365.17,202.50 L418.27,232.40" stroke="#3db44b" stroke-width="1.0" fill="none" />
<circle cx="258.97" cy="176.70" r="1.9" fill="#3db44b"/>
<circle cx="312.07" cy="177.50" r="1.9" fill="#3db44b"/>
<circle cx="365.17" cy="202.50" r="1.9" fill="#3db44b"/>
<circle cx="418.27" cy="232.40" r="1.9" fill="#3db44b"/>
<circle cx="258.97" cy="176.60" r="1.9" fill="#0e4d86"/>
<circle cx="313.80" cy="172.20" r="0.85" fill="#3db44b"/>
<circle cx="318.00" cy="175.50" r="0.85" fill="#1b6b52"/>
<text x="302.70" y="186.60" font-size="6.4" stroke="#f7a545" stroke-width="0.16" text-anchor="middle" fill="#f7a545" >ns</text>
<circle cx="366.90" cy="197.60" r="0.85" fill="#3db44b"/>
<circle cx="369.90" cy="197.60" r="0.85" fill="#3db44b"/>
<circle cx="372.90" cy="197.60" r="0.85" fill="#3db44b"/>
<circle cx="362.30" cy="222.00" r="0.85" fill="#1b6b52"/>
<circle cx="365.30" cy="222.00" r="0.85" fill="#1b6b52"/>
<text x="368.70" y="256.60" font-size="6.4" stroke="#f7a545" stroke-width="0.16" text-anchor="middle" fill="#f7a545" >ns</text>
<circle cx="415.90" cy="222.80" r="0.85" fill="#3db44b"/>
<circle cx="418.90" cy="222.80" r="0.85" fill="#3db44b"/>
<circle cx="421.90" cy="222.80" r="0.85" fill="#3db44b"/>
<circle cx="416.90" cy="246.50" r="0.85" fill="#1b6b52"/>
<circle cx="419.90" cy="246.50" r="0.85" fill="#1b6b52"/>
<text x="417.50" y="276.50" font-size="6.4" stroke="#f7a545" stroke-width="0.16" text-anchor="middle" fill="#f7a545" >ns</text>
<line x1="357.70" y1="155.60" x2="371.50" y2="155.60" stroke="#c8203a" stroke-width="1.0" />
<circle cx="364.60" cy="155.60" r="1.9" fill="#c8203a"/>
<text x="378.80" y="158.20" font-size="7.45" stroke="#1a1a1a" stroke-width="0.06" fill="#1a1a1a" >57-2 WT</text>
<line x1="357.70" y1="165.20" x2="371.50" y2="165.20" stroke="#3db44b" stroke-width="1.0" />
<circle cx="364.60" cy="165.20" r="1.9" fill="#3db44b"/>
<text x="378.80" y="167.80" font-size="7.45" stroke="#1a1a1a" stroke-width="0.06" fill="#1a1a1a" >55-7 <tspan font-style="italic">IKZF1</tspan> KO</text>
<line x1="357.70" y1="176.30" x2="371.50" y2="176.30" stroke="#f7941d" stroke-width="1.0" />
<circle cx="364.60" cy="176.30" r="1.9" fill="#f7941d"/>
<text x="378.80" y="178.90" font-size="7.45" stroke="#1a1a1a" stroke-width="0.06" fill="#1a1a1a" >H-23 <tspan font-style="italic">IKZF1</tspan> +/-</text>
<line x1="357.70" y1="188.70" x2="371.50" y2="188.70" stroke="#1b6b52" stroke-width="1.0" />
<circle cx="364.60" cy="188.70" r="1.9" fill="#1b6b52"/>
<text x="378.80" y="191.30" font-size="7.45" stroke="#1a1a1a" stroke-width="0.06" fill="#1a1a1a" >H-26 <tspan font-style="italic">IKZF1</tspan> +/-</text>
<text x="8.00" y="331.20" font-size="11" stroke="#000" stroke-width="0.16" font-weight="bold" >F</text>
<text x="17.00" y="343.70" font-size="8.4" stroke="#1a1a1a" stroke-width="0.08" fill="#1a1a1a" >Clone</text>
<text x="17.00" y="359.70" font-size="8.4" stroke="#1a1a1a" stroke-width="0.08" fill="#1a1a1a" >Genotype</text>
<text x="71.90" y="343.30" font-size="7.4" stroke="#d0334a" stroke-width="0.05" text-anchor="middle" fill="#d0334a" >57-2</text>
<text x="71.90" y="358.80" font-size="7.4" stroke="#d0334a" stroke-width="0.05" text-anchor="middle" fill="#d0334a" >WT</text>
<text x="114.20" y="343.30" font-size="7.4" stroke="#2e7d5b" stroke-width="0.05" text-anchor="middle" fill="#2e7d5b" >H-26</text>
<text x="114.20" y="358.80" font-size="7.4" stroke="#2e7d5b" stroke-width="0.05" text-anchor="middle" fill="#2e7d5b" >+/-</text>
<text x="152.80" y="343.30" font-size="7.4" stroke="#4cbb5a" stroke-width="0.05" text-anchor="middle" fill="#4cbb5a" >55-7</text>
<text x="152.80" y="358.80" font-size="7.4" stroke="#4cbb5a" stroke-width="0.05" text-anchor="middle" fill="#4cbb5a" >KO</text>
<text x="196.80" y="343.30" font-size="7.4" stroke="#6b3b8c" stroke-width="0.05" text-anchor="middle" fill="#6b3b8c" >55-7+Ik1</text>
<text x="196.80" y="358.80" font-size="7.4" stroke="#6b3b8c" stroke-width="0.05" text-anchor="middle" fill="#6b3b8c" >Rescue</text>
<text x="17.00" y="382.40" font-size="8.4" stroke="#1a1a1a" stroke-width="0.08" fill="#1a1a1a" textLength="12.2" lengthAdjust="spacingAndGlyphs" >Ik-1</text>
<text x="17.00" y="419.50" font-size="8.4" stroke="#1a1a1a" stroke-width="0.08" fill="#1a1a1a" textLength="32" lengthAdjust="spacingAndGlyphs" >β ACTIN</text>
<defs>
<linearGradient id="bg1" x1="0" y1="0" x2="0" y2="1"><stop offset="0" stop-color="#f7f7f7"/><stop offset="1" stop-color="#ebebeb"/></linearGradient>
<filter id="blur1" x="-20%" y="-50%" width="140%" height="200%"><feGaussianBlur stdDeviation="0.75"/></filter>
<filter id="blur2" x="-20%" y="-60%" width="140%" height="220%"><feGaussianBlur stdDeviation="1.0"/></filter>
</defs>
<rect x="52.6" y="367.9" width="163" height="23.9" fill="url(#bg1)" stroke="#000" stroke-width="1.1"/>
<rect x="52.6" y="406.3" width="163" height="17.4" fill="url(#bg1)" stroke="#000" stroke-width="1.1"/>
<g filter="url(#blur2)">
<rect x="59" y="379.5" width="27" height="4" fill="#c8c8c8" opacity="0.6"/>
<rect x="100" y="379.5" width="27" height="3" fill="#d0d0d0" opacity="0.5"/>
<ellipse cx="61.6" cy="385.5" rx="4.2" ry="3.8" fill="#000"/>
<ellipse cx="70.5" cy="386.0" rx="6.6" ry="3.3" fill="#000"/>
<ellipse cx="80.0" cy="384.5" rx="7.0" ry="2.7" fill="#050505"/>
<rect x="99.2" y="381.5" width="28.6" height="5.4" rx="2.7" fill="#6a6a6a"/>
<ellipse cx="110" cy="384" rx="4.5" ry="2" fill="#4a4a4a"/>
<rect x="140" y="384.6" width="30" height="2" rx="1" fill="#e0e0e0"/>
</g>
<g filter="url(#blur1)">
<path d="M181,383.2 C181,379.3 186,378.6 195,378.6 C204,378.6 212.3,380.5 212.3,384.2 C212.3,387.6 205,387.8 196,387.8 C188,387.8 181,388 181,383.2 Z" fill="#050505"/>
</g>
<g filter="url(#blur1)">
<path d="M58,414.5 C58,410.6 62,410.4 67,411 C72,411.4 76,410.8 82,410 C88,409.4 92.8,409.6 92.8,413 C92.8,416.6 88,417.5 81,418.4 C74,419.4 68,420 63,419.6 C59.5,419.3 58,417.5 58,414.5 Z" fill="#050505"/>
<path d="M97.5,412.4 C97.5,408.6 103,408.6 114,408.6 C125,408.6 131.7,408.4 131.7,412.2 C131.7,416.2 126,416.5 115,416.5 C104,416.5 97.5,416.5 97.5,412.4 Z" fill="#050505"/>
<path d="M135.6,412.4 C135.6,408.4 141,408.2 153,408.2 C165,408.2 171.2,408.4 171.2,412.3 C171.2,416.6 165,416.8 153,416.8 C141,416.8 135.6,416.6 135.6,412.4 Z" fill="#050505"/>
<path d="M175.8,412.3 C175.8,408.3 181,408.2 194,408.2 C207,408.2 212.9,408.8 212.9,412.8 C212.9,417 207,417.2 194,417 C181,416.8 175.8,416.6 175.8,412.3 Z" fill="#050505"/>
</g>
<line x1="215.60" y1="372.50" x2="218.20" y2="372.50" stroke="#000" stroke-width="1.0" />
<line x1="215.60" y1="420.00" x2="218.20" y2="420.00" stroke="#000" stroke-width="1.0" />
<text x="223.80" y="376.80" font-size="8.2" stroke="#1a1a1a" stroke-width="0.1" fill="#1a1a1a" textLength="27.2" lengthAdjust="spacingAndGlyphs" >75 kDa</text>
<text x="223.80" y="424.60" font-size="8.2" stroke="#1a1a1a" stroke-width="0.1" fill="#1a1a1a" textLength="26.8" lengthAdjust="spacingAndGlyphs" >35 kDa</text>
<text x="264.00" y="331.20" font-size="11" stroke="#000" stroke-width="0.16" font-weight="bold" >G</text>
<line x1="295.90" y1="333.80" x2="295.90" y2="454.10" stroke="#333" stroke-width="1.6" />
<line x1="295.30" y1="453.50" x2="474.40" y2="453.50" stroke="#333" stroke-width="1.6" />
<line x1="292.80" y1="453.50" x2="295.90" y2="453.50" stroke="#333" stroke-width="1.0" />
<text x="291.60" y="455.80" font-size="7.3" stroke="#222" stroke-width="0.16" text-anchor="end" fill="#222" >0</text>
<line x1="292.80" y1="423.73" x2="295.90" y2="423.73" stroke="#333" stroke-width="1.0" />
<text x="291.60" y="426.03" font-size="7.3" stroke="#222" stroke-width="0.16" text-anchor="end" fill="#222" >25</text>
<line x1="292.80" y1="393.95" x2="295.90" y2="393.95" stroke="#333" stroke-width="1.0" />
<text x="291.60" y="396.25" font-size="7.3" stroke="#222" stroke-width="0.16" text-anchor="end" fill="#222" >50</text>
<line x1="292.80" y1="364.18" x2="295.90" y2="364.18" stroke="#333" stroke-width="1.0" />
<text x="291.60" y="366.48" font-size="7.3" stroke="#222" stroke-width="0.16" text-anchor="end" fill="#222" >75</text>
<line x1="292.80" y1="334.40" x2="295.90" y2="334.40" stroke="#333" stroke-width="1.0" />
<text x="291.60" y="336.70" font-size="7.3" stroke="#222" stroke-width="0.16" text-anchor="end" fill="#222" >100</text>
<line x1="311.90" y1="453.50" x2="311.90" y2="455.90" stroke="#333" stroke-width="1.0" />
<text x="311.90" y="465.30" font-size="7.3" stroke="#111" stroke-width="0.16" text-anchor="middle" fill="#111" >1</text>
<line x1="393.10" y1="453.50" x2="393.10" y2="455.90" stroke="#333" stroke-width="1.0" />
<text x="393.10" y="465.30" font-size="7.3" stroke="#111" stroke-width="0.16" text-anchor="middle" fill="#111" >2</text>
<line x1="474.30" y1="453.50" x2="474.30" y2="455.90" stroke="#333" stroke-width="1.0" />
<text x="474.30" y="465.30" font-size="7.3" stroke="#111" stroke-width="0.16" text-anchor="middle" fill="#111" >3</text>
<text x="347.90" y="474.80" font-size="8.4" stroke="#111" stroke-width="0.3" fill="#111" textLength="73.9" lengthAdjust="spacingAndGlyphs" >Dexamethasone (log<tspan font-size="4.6">10</tspan> nM)</text>
<text x="276.00" y="393.70" font-size="7.2" stroke="#111" stroke-width="0.28" text-anchor="middle" fill="#111" textLength="66.4" lengthAdjust="spacingAndGlyphs" transform="rotate(-90 276.00 393.70)" ><tspan font-weight="bold">% AVB/7-AAD</tspan> negative</text>
<line x1="344.38" y1="391.00" x2="344.38" y2="398.80" stroke="#c8203a" stroke-width="0.9" />
<line x1="342.18" y1="391.00" x2="346.58" y2="391.00" stroke="#c8203a" stroke-width="0.9" />
<line x1="342.18" y1="398.80" x2="346.58" y2="398.80" stroke="#c8203a" stroke-width="0.9" />
<line x1="344.38" y1="362.70" x2="344.38" y2="367.90" stroke="#5b2a86" stroke-width="0.9" />
<line x1="342.18" y1="362.70" x2="346.58" y2="362.70" stroke="#5b2a86" stroke-width="0.9" />
<line x1="342.18" y1="367.90" x2="346.58" y2="367.90" stroke="#5b2a86" stroke-width="0.9" />
<line x1="368.74" y1="387.70" x2="368.74" y2="393.10" stroke="#5b2a86" stroke-width="0.9" />
<line x1="366.54" y1="387.70" x2="370.94" y2="387.70" stroke="#5b2a86" stroke-width="0.9" />
<line x1="366.54" y1="393.10" x2="370.94" y2="393.10" stroke="#5b2a86" stroke-width="0.9" />
<path d="M295.66,343.60 L320.02,358.90 L344.38,394.60 L368.74,426.20 L449.94,444.50" stroke="#c8203a" stroke-width="1.0" fill="none" />
<circle cx="295.66" cy="343.60" r="1.9" fill="#c8203a"/>
<circle cx="320.02" cy="358.90" r="1.9" fill="#c8203a"/>
<circle cx="344.38" cy="394.60" r="1.9" fill="#c8203a"/>
<circle cx="368.74" cy="426.20" r="1.9" fill="#c8203a"/>
<circle cx="449.94" cy="444.50" r="1.9" fill="#c8203a"/>
<path d="M295.66,339.30 L320.02,341.80 L344.38,348.40 L368.74,366.20 L449.94,405.90" stroke="#3db44b" stroke-width="1.0" fill="none" />
<circle cx="295.66" cy="339.30" r="1.9" fill="#3db44b"/>
<circle cx="320.02" cy="341.80" r="1.9" fill="#3db44b"/>
<circle cx="344.38" cy="348.40" r="1.9" fill="#3db44b"/>
<circle cx="368.74" cy="366.20" r="1.9" fill="#3db44b"/>
<circle cx="449.94" cy="405.90" r="1.9" fill="#3db44b"/>
<path d="M295.66,344.00 L320.02,351.40 L344.38,365.40 L368.74,390.00 L449.94,430.10" stroke="#5b2a86" stroke-width="1.0" fill="none" />
<circle cx="295.66" cy="344.00" r="1.9" fill="#5b2a86"/>
<circle cx="320.02" cy="351.40" r="1.9" fill="#5b2a86"/>
<circle cx="344.38" cy="365.40" r="1.9" fill="#5b2a86"/>
<circle cx="368.74" cy="390.00" r="1.9" fill="#5b2a86"/>
<circle cx="449.94" cy="430.10" r="1.9" fill="#3db44b"/>
<circle cx="300.60" cy="332.80" r="0.85" fill="#3db44b"/>
<text x="303.20" y="344.80" font-size="6.4" stroke="#8a5aa8" stroke-width="0.16" text-anchor="middle" fill="#8a5aa8" >ns</text>
<circle cx="320.80" cy="337.30" r="0.85" fill="#3db44b"/>
<circle cx="323.80" cy="337.30" r="0.85" fill="#3db44b"/>
<circle cx="323.70" cy="349.10" r="0.85" fill="#5b2a86"/>
<circle cx="342.40" cy="342.00" r="0.85" fill="#3db44b"/>
<circle cx="345.40" cy="342.00" r="0.85" fill="#3db44b"/>
<circle cx="348.40" cy="342.00" r="0.85" fill="#3db44b"/>
<circle cx="343.80" cy="358.60" r="0.85" fill="#5b2a86"/>
<circle cx="375.00" cy="366.50" r="0.85" fill="#3db44b"/>
<circle cx="378.00" cy="366.50" r="0.85" fill="#3db44b"/>
<circle cx="381.00" cy="366.50" r="0.85" fill="#3db44b"/>
<circle cx="368.90" cy="382.20" r="0.85" fill="#5b2a86"/>
<circle cx="371.90" cy="382.20" r="0.85" fill="#5b2a86"/>
<circle cx="452.70" cy="401.30" r="0.85" fill="#3db44b"/>
<circle cx="455.70" cy="401.30" r="0.85" fill="#3db44b"/>
<circle cx="458.70" cy="401.30" r="0.85" fill="#3db44b"/>
<circle cx="450.70" cy="424.00" r="0.85" fill="#5b2a86"/>
<line x1="376.60" y1="334.30" x2="390.80" y2="334.30" stroke="#c8203a" stroke-width="1.0" />
<circle cx="383.80" cy="334.30" r="1.9" fill="#c8203a"/>
<text x="396.60" y="336.90" font-size="7.45" stroke="#1a1a1a" stroke-width="0.06" fill="#1a1a1a" >57-2 WT</text>
<line x1="376.60" y1="344.20" x2="390.80" y2="344.20" stroke="#3db44b" stroke-width="1.0" />
<circle cx="383.80" cy="344.20" r="1.9" fill="#3db44b"/>
<text x="396.60" y="346.80" font-size="7.45" stroke="#1a1a1a" stroke-width="0.06" fill="#1a1a1a" >55-7 <tspan font-style="italic">IKZF1</tspan> KO</text>
<line x1="376.60" y1="355.30" x2="390.80" y2="355.30" stroke="#5b2a86" stroke-width="1.0" />
<circle cx="383.80" cy="355.30" r="1.9" fill="#5b2a86"/>
<text x="396.60" y="357.90" font-size="7.45" stroke="#1a1a1a" stroke-width="0.06" fill="#1a1a1a" >55-7 <tspan font-style="italic">IKZF1</tspan> KO +Ik1</text>
<text x="7.20" y="497.60" font-size="11" stroke="#000" stroke-width="0.16" font-weight="bold" >H</text>
<line x1="49.00" y1="513.70" x2="49.00" y2="601.50" stroke="#000" stroke-width="1.1" />
<line x1="48.50" y1="601.00" x2="137.60" y2="601.00" stroke="#000" stroke-width="1.1" />
<line x1="46.00" y1="601.00" x2="49.00" y2="601.00" stroke="#000" stroke-width="0.9" />
<text x="44.80" y="603.30" font-size="7.3" stroke="#222" stroke-width="0.12" text-anchor="end" fill="#222" >0</text>
<line x1="46.00" y1="579.30" x2="49.00" y2="579.30" stroke="#000" stroke-width="0.9" />
<text x="44.80" y="581.60" font-size="7.3" stroke="#222" stroke-width="0.12" text-anchor="end" fill="#222" >10</text>
<line x1="46.00" y1="557.60" x2="49.00" y2="557.60" stroke="#000" stroke-width="0.9" />
<text x="44.80" y="559.90" font-size="7.3" stroke="#222" stroke-width="0.12" text-anchor="end" fill="#222" >20</text>
<line x1="46.00" y1="535.90" x2="49.00" y2="535.90" stroke="#000" stroke-width="0.9" />
<text x="44.80" y="538.20" font-size="7.3" stroke="#222" stroke-width="0.12" text-anchor="end" fill="#222" >30</text>
<line x1="46.00" y1="514.20" x2="49.00" y2="514.20" stroke="#000" stroke-width="0.9" />
<text x="44.80" y="516.50" font-size="7.3" stroke="#222" stroke-width="0.12" text-anchor="end" fill="#222" >40</text>
<rect x="53.60" y="531.56" width="19.90" height="69.44" fill="#c8203a"/>
<rect x="81.40" y="566.28" width="21.30" height="34.72" fill="#0e4d84"/>
<rect x="111.60" y="558.69" width="20.00" height="42.31" fill="#3db04b"/>
<text x="23.70" y="501.00" font-size="8.4" stroke="#111" stroke-width="0.1" fill="#111" >Untreated</text>
<text x="83.10" y="501.00" font-size="8.7" stroke="#111" stroke-width="0.1" fill="#111" font-style="italic" textLength="28.3" lengthAdjust="spacingAndGlyphs" >NR3C1</text>
<text x="65.70" y="609.00" font-size="7" stroke="#111" stroke-width="0.12" text-anchor="end" fill="#111" textLength="13.2" lengthAdjust="spacingAndGlyphs" transform="rotate(-45 65.70 609.00)" >WT</text>
<text x="95.90" y="609.00" font-size="7" stroke="#111" stroke-width="0.12" text-anchor="end" fill="#111" textLength="50.5" lengthAdjust="spacingAndGlyphs" transform="rotate(-45 95.90 609.00)" ><tspan font-style="italic">IKZF1</tspan> KO 55-3</text>
<text x="125.90" y="609.00" font-size="7" stroke="#111" stroke-width="0.12" text-anchor="end" fill="#111" textLength="50.5" lengthAdjust="spacingAndGlyphs" transform="rotate(-45 125.90 609.00)" ><tspan font-style="italic">IKZF1</tspan> KO 55-7</text>
<line x1="63.55" y1="601.00" x2="63.55" y2="603.20" stroke="#000" stroke-width="0.8" />
<line x1="92.05" y1="601.00" x2="92.05" y2="603.20" stroke="#000" stroke-width="0.8" />
<line x1="121.60" y1="601.00" x2="121.60" y2="603.20" stroke="#000" stroke-width="0.8" />
<text x="31.00" y="557.50" font-size="9.3" stroke="#111" stroke-width="0.3" text-anchor="middle" fill="#111" textLength="16.7" lengthAdjust="spacingAndGlyphs" transform="rotate(-90 31.00 557.50)" >FPKM</text>
<line x1="175.40" y1="509.60" x2="175.40" y2="601.40" stroke="#000" stroke-width="1.1" />
<line x1="174.90" y1="600.90" x2="278.40" y2="600.90" stroke="#000" stroke-width="1.1" />
<line x1="172.40" y1="600.90" x2="175.40" y2="600.90" stroke="#000" stroke-width="0.9" />
<text x="171.20" y="603.20" font-size="7.3" stroke="#222" stroke-width="0.12" text-anchor="end" fill="#222" >0</text>
<line x1="172.40" y1="582.74" x2="175.40" y2="582.74" stroke="#000" stroke-width="0.9" />
<text x="171.20" y="585.04" font-size="7.3" stroke="#222" stroke-width="0.12" text-anchor="end" fill="#222" >2</text>
<line x1="172.40" y1="564.58" x2="175.40" y2="564.58" stroke="#000" stroke-width="0.9" />
<text x="171.20" y="566.88" font-size="7.3" stroke="#222" stroke-width="0.12" text-anchor="end" fill="#222" >4</text>
<line x1="172.40" y1="546.42" x2="175.40" y2="546.42" stroke="#000" stroke-width="0.9" />
<text x="171.20" y="548.72" font-size="7.3" stroke="#222" stroke-width="0.12" text-anchor="end" fill="#222" >6</text>
<line x1="172.40" y1="528.26" x2="175.40" y2="528.26" stroke="#000" stroke-width="0.9" />
<text x="171.20" y="530.56" font-size="7.3" stroke="#222" stroke-width="0.12" text-anchor="end" fill="#222" >8</text>
<line x1="172.40" y1="510.10" x2="175.40" y2="510.10" stroke="#000" stroke-width="0.9" />
<text x="171.20" y="512.40" font-size="7.3" stroke="#222" stroke-width="0.12" text-anchor="end" fill="#222" >10</text>
<rect x="184.10" y="525.54" width="19.90" height="75.36" fill="#c8203a"/>
<rect x="217.00" y="556.41" width="21.10" height="44.49" fill="#0e4d84"/>
<rect x="251.00" y="560.95" width="20.20" height="39.95" fill="#3db04b"/>
<text x="154.40" y="501.00" font-size="8.4" stroke="#111" stroke-width="0.1" fill="#111" >Dex 48 hr</text>
<text x="214.40" y="501.00" font-size="8.7" stroke="#111" stroke-width="0.1" fill="#111" font-style="italic" textLength="28.0" lengthAdjust="spacingAndGlyphs" >FKBP5</text>
<text x="196.70" y="609.00" font-size="7" stroke="#111" stroke-width="0.12" text-anchor="end" fill="#111" textLength="13.2" lengthAdjust="spacingAndGlyphs" transform="rotate(-45 196.70 609.00)" >WT</text>
<text x="230.70" y="609.00" font-size="7" stroke="#111" stroke-width="0.12" text-anchor="end" fill="#111" textLength="50.5" lengthAdjust="spacingAndGlyphs" transform="rotate(-45 230.70 609.00)" ><tspan font-style="italic">IKZF1</tspan> KO 55-3</text>
<text x="264.00" y="609.00" font-size="7" stroke="#111" stroke-width="0.12" text-anchor="end" fill="#111" textLength="50.5" lengthAdjust="spacingAndGlyphs" transform="rotate(-45 264.00 609.00)" ><tspan font-style="italic">IKZF1</tspan> KO 55-7</text>
<line x1="194.05" y1="600.90" x2="194.05" y2="603.10" stroke="#000" stroke-width="0.8" />
<line x1="227.55" y1="600.90" x2="227.55" y2="603.10" stroke="#000" stroke-width="0.8" />
<line x1="261.10" y1="600.90" x2="261.10" y2="603.10" stroke="#000" stroke-width="0.8" />
<text x="161.50" y="557.60" font-size="9.0" stroke="#111" stroke-width="0.35" text-anchor="middle" fill="#111" textLength="37.6" lengthAdjust="spacingAndGlyphs" transform="rotate(-90 161.50 557.60)" >Fold increase</text>
<line x1="320.20" y1="513.70" x2="320.20" y2="602.40" stroke="#000" stroke-width="1.1" />
<line x1="319.70" y1="601.90" x2="418.90" y2="601.90" stroke="#000" stroke-width="1.1" />
<line x1="317.20" y1="601.90" x2="320.20" y2="601.90" stroke="#000" stroke-width="0.9" />
<text x="316.00" y="604.20" font-size="7.3" stroke="#222" stroke-width="0.12" text-anchor="end" fill="#222" >0</text>
<line x1="317.20" y1="572.67" x2="320.20" y2="572.67" stroke="#000" stroke-width="0.9" />
<text x="316.00" y="574.97" font-size="7.3" stroke="#222" stroke-width="0.12" text-anchor="end" fill="#222" >20</text>
<line x1="317.20" y1="543.43" x2="320.20" y2="543.43" stroke="#000" stroke-width="0.9" />
<text x="316.00" y="545.73" font-size="7.3" stroke="#222" stroke-width="0.12" text-anchor="end" fill="#222" >40</text>
<line x1="317.20" y1="514.20" x2="320.20" y2="514.20" stroke="#000" stroke-width="0.9" />
<text x="316.00" y="516.50" font-size="7.3" stroke="#222" stroke-width="0.12" text-anchor="end" fill="#222" >60</text>
<rect x="328.10" y="529.40" width="19.60" height="72.50" fill="#c8203a"/>
<rect x="360.10" y="569.16" width="20.80" height="32.74" fill="#0e4d84"/>
<rect x="393.00" y="569.30" width="20.20" height="32.60" fill="#3db04b"/>
<text x="297.20" y="501.00" font-size="8.4" stroke="#111" stroke-width="0.1" fill="#111" >Dex 48 hr</text>
<text x="351.80" y="501.00" font-size="8.7" stroke="#111" stroke-width="0.1" fill="#111" font-style="italic" textLength="37.9" lengthAdjust="spacingAndGlyphs" >TSC22D3</text>
<text x="340.20" y="609.00" font-size="7" stroke="#111" stroke-width="0.12" text-anchor="end" fill="#111" textLength="13.2" lengthAdjust="spacingAndGlyphs" transform="rotate(-45 340.20 609.00)" >WT</text>
<text x="373.60" y="609.00" font-size="7" stroke="#111" stroke-width="0.12" text-anchor="end" fill="#111" textLength="50.5" lengthAdjust="spacingAndGlyphs" transform="rotate(-45 373.60 609.00)" ><tspan font-style="italic">IKZF1</tspan> KO 55-3</text>
<text x="404.60" y="609.00" font-size="7" stroke="#111" stroke-width="0.12" text-anchor="end" fill="#111" textLength="50.5" lengthAdjust="spacingAndGlyphs" transform="rotate(-45 404.60 609.00)" ><tspan font-style="italic">IKZF1</tspan> KO 55-7</text>
<line x1="337.90" y1="601.90" x2="337.90" y2="604.10" stroke="#000" stroke-width="0.8" />
<line x1="370.50" y1="601.90" x2="370.50" y2="604.10" stroke="#000" stroke-width="0.8" />
<line x1="403.10" y1="601.90" x2="403.10" y2="604.10" stroke="#000" stroke-width="0.8" />
<text x="303.50" y="557.60" font-size="9.0" stroke="#111" stroke-width="0.35" text-anchor="middle" fill="#111" textLength="37.6" lengthAdjust="spacingAndGlyphs" transform="rotate(-90 303.50 557.60)" >Fold increase</text>
</svg>
</body></html>
